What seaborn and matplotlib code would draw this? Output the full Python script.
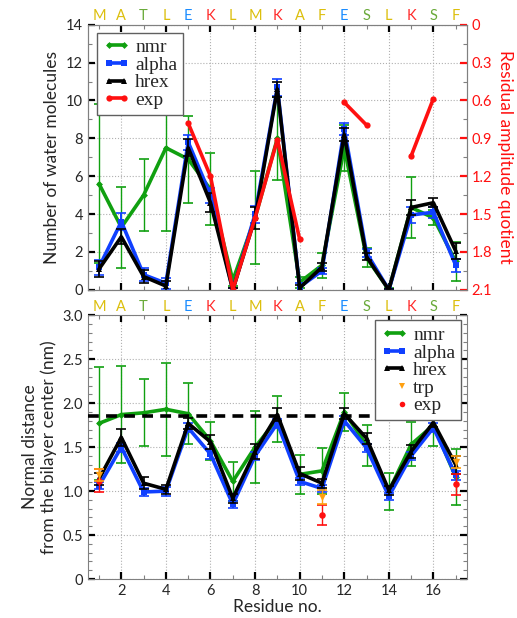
import numpy as np
import pandas as pd
import matplotlib
matplotlib.use('Agg')
import matplotlib.pyplot as plt
from matplotlib.ticker import MultipleLocator, FuncFormatter
from matplotlib.lines import Line2D
import seaborn as sns

# ---- data ----
residues = np.arange(1, 18)
sequence = list('MATLEKLMKAFESLKSF')
aa_colors = {'M': '#dcbf0c', 'A': '#dcbf0c', 'L': '#dcbf0c', 'F': '#dcbf0c',
             'T': '#6aaa3a', 'S': '#6aaa3a', 'E': '#1a8cff', 'K': '#ff2a2a'}

# top panel: number of water molecules
water_nmr = [5.6, 3.3, 5.0, 7.5, 6.9, 5.3, 0.5, 3.8, 8.0, 0.4, 1.3, 7.5, 1.7, 0.0, 4.35, 3.8, 1.5]
water_nmr_err = [4.2, 2.15, 1.9, 4.4, 2.3, 1.9, 0.3, 2.45, 2.2, 0.3, 0.65, 1.2, 0.5, 0.1, 1.6, 0.4, 1.05]
water_alpha = [1.2, 3.6, 0.8, 0.35, 7.8, 5.0, 0.0, 4.0, 10.7, 0.15, 1.0, 8.5, 1.95, 0.0, 3.95, 4.1, 1.3]
water_alpha_err = [0.4, 0.45, 0.35, 0.3, 0.4, 0.4, 0.1, 0.45, 0.45, 0.2, 0.15, 0.3, 0.2, 0.05, 0.4, 0.3, 0.35]
water_hrex = [1.1, 2.8, 0.7, 0.2, 7.5, 4.6, 0.0, 3.8, 10.6, 0.1, 1.2, 8.2, 1.75, 0.0, 4.35, 4.6, 2.05]
water_hrex_err = [0.4, 0.4, 0.35, 0.25, 0.45, 0.5, 0.1, 0.6, 0.4, 0.15, 0.2, 0.35, 0.2, 0.05, 0.4, 0.25, 0.4]
quotient_exp = [np.nan, np.nan, np.nan, np.nan, 0.78, 1.2, 2.1, 1.53, 0.91, 1.70,
                np.nan, 0.615, 0.795, np.nan, 1.04, 0.585, np.nan]

# bottom panel: normal distance from bilayer center (nm)
dist_nmr = [1.77, 1.87, 1.89, 1.93, 1.88, 1.57, 1.11, 1.50, 1.82, 1.19, 1.23, 1.90, 1.52, 1.00, 1.53, 1.75, 1.16]
dist_nmr_err = [0.64, 0.55, 0.38, 0.53, 0.35, 0.22, 0.22, 0.41, 0.26, 0.22, 0.26, 0.22, 0.23, 0.21, 0.25, 0.24, 0.32]
dist_alpha = [1.06, 1.50, 0.99, 1.00, 1.72, 1.42, 0.85, 1.40, 1.77, 1.11, 1.03, 1.80, 1.49, 0.94, 1.40, 1.72, 1.18]
dist_alpha_err = [0.04, 0.05, 0.05, 0.05, 0.05, 0.05, 0.04, 0.05, 0.05, 0.04, 0.04, 0.05, 0.04, 0.04, 0.05, 0.05, 0.05]
dist_hrex = [1.14, 1.61, 1.09, 1.02, 1.77, 1.56, 0.92, 1.45, 1.87, 1.20, 1.09, 1.88, 1.60, 1.01, 1.45, 1.78, 1.30]
dist_hrex_err = [0.07, 0.1, 0.07, 0.05, 0.06, 0.08, 0.05, 0.09, 0.07, 0.07, 0.05, 0.06, 0.06, 0.05, 0.07, 0.05, 0.1]
trp_res = [1, 11, 17]
trp_dist = [1.18, 0.93, 1.33]
trp_err = [0.07, 0.08, 0.07]
exp_res = [1, 11, 17]
exp_dist = [1.12, 0.73, 1.08]
exp_err = [0.13, 0.11, 0.12]
center_ref = 1.85

C_NMR, C_ALPHA, C_HREX, C_EXP, C_TRP = '#10a010', '#1040ff', 'black', '#ff1010', '#ffa010'

sns.set_style('ticks')
plt.rcParams['font.family'] = ['Lato', 'DejaVu Sans']
plt.rcParams['axes.edgecolor'] = '#808080'

fig = plt.figure(figsize=(5.17, 6.18), dpi=100)
ax1 = fig.add_axes([0.170, 0.531, 0.733, 0.429])
ax2 = fig.add_axes([0.170, 0.063, 0.733, 0.427])


def draw_series(ax, y, err, color, marker, ms, lw=2.6, elw=1.0, z=2):
    ax.errorbar(residues, y, yerr=err, fmt='none', ecolor=color, elinewidth=elw,
                capsize=3.5, capthick=1.2, zorder=z)
    sns.lineplot(x=residues, y=y, ax=ax, color=color, lw=lw, marker=marker,
                 markersize=ms, markeredgewidth=0, sort=False, zorder=z + 0.5)


def style_axis(ax, right=True):
    ax.set_xlim(0.5, 17.5)
    ax.xaxis.set_major_locator(MultipleLocator(2))
    ax.xaxis.set_minor_locator(MultipleLocator(1))
    ax.tick_params(which='major', direction='in', length=5, width=1.6, color='black',
                   top=True, right=right, labelsize=10.5)
    ax.tick_params(which='minor', direction='in', length=3, width=0.8, color='#808080',
                   top=True, right=right)
    ax.grid(True, which='major', ls=':', color='#b0b0b0', lw=0.8)
    for i, aa in enumerate(sequence):
        ax.annotate(aa, (residues[i], 1.0), xycoords=ax.get_xaxis_transform(),
                    xytext=(0, 1), textcoords='offset points', ha='center', va='bottom',
                    color=aa_colors[aa], fontsize=10.5)
    for sp in ax.spines.values():
        sp.set_color('#808080')


# ---- top panel ----
draw_series(ax1, water_nmr, water_nmr_err, C_NMR, 'D', 3.5, elw=1.0, z=2)
draw_series(ax1, water_alpha, water_alpha_err, C_ALPHA, 's', 4.5, elw=1.4, z=3)
draw_series(ax1, water_hrex, water_hrex_err, C_HREX, '^', 4.5, elw=1.2, z=4)
ax1.set_ylim(0, 14)
ax1.yaxis.set_major_locator(MultipleLocator(2))
ax1.yaxis.set_minor_locator(MultipleLocator(1))
style_axis(ax1, right=False)
ax1.tick_params(labelbottom=False)
ax1.set_xlabel('')
ax1.set_ylabel('Number of water molecules', fontsize=12.5)

ax1r = ax1.twinx()
exp_df = pd.DataFrame({'residue': residues, 'quotient': quotient_exp})
exp_df['seg'] = exp_df['quotient'].isna().cumsum()
exp_df = exp_df.dropna()
sns.lineplot(data=exp_df, x='residue', y='quotient', units='seg', estimator=None,
             ax=ax1r, color=C_EXP, lw=2.6, marker='o', markersize=4.5,
             markeredgewidth=0, sort=False)
ax1r.set_ylim(2.1, 0)
ax1r.set_xlim(0.5, 17.5)
ax1r.yaxis.set_major_locator(MultipleLocator(0.3))
ax1r.yaxis.set_minor_locator(MultipleLocator(0.15))
ax1r.yaxis.set_major_formatter(FuncFormatter(lambda v, p: '0' if abs(v) < 1e-9 else f'{v:.1f}'))
ax1r.tick_params(which='major', direction='in', length=5, width=1.6, color=C_EXP,
                 labelcolor=C_EXP, labelsize=10.5)
ax1r.tick_params(which='minor', direction='in', length=3, width=0.8, color='#808080')
ax1r.set_ylabel('Residual amplitude quotient', color=C_EXP, fontsize=12.5,
                rotation=270, labelpad=15)
ax1r.set_xlabel('')
for sp in ax1r.spines.values():
    sp.set_color('#808080')

leg_font = {'family': 'Liberation Serif', 'size': 14}
leg_kw = dict(prop=leg_font, numpoints=2, handlelength=1.35, handletextpad=0.3,
              labelspacing=0.0, borderpad=0.3, borderaxespad=0, fancybox=False,
              framealpha=1, edgecolor='#606060')
top_handles = [
    Line2D([], [], color=C_NMR, lw=2.6, marker='D', ms=3.5, mew=0),
    Line2D([], [], color=C_ALPHA, lw=2.6, marker='s', ms=4.5, mew=0),
    Line2D([], [], color=C_HREX, lw=2.6, marker='^', ms=4.5, mew=0),
    Line2D([], [], color=C_EXP, lw=2.6, marker='o', ms=4.5, mew=0),
]
leg1 = ax1r.legend(top_handles, ['nmr', 'alpha', 'hrex', 'exp'], loc='upper left',
                   bbox_to_anchor=(0.025, 0.97), **leg_kw)
leg1.get_frame().set_linewidth(1.0)

# ---- bottom panel ----
draw_series(ax2, dist_nmr, dist_nmr_err, C_NMR, 'D', 3.5, elw=1.0, z=2)
draw_series(ax2, dist_alpha, dist_alpha_err, C_ALPHA, 's', 4.5, elw=1.4, z=3)
draw_series(ax2, dist_hrex, dist_hrex_err, C_HREX, '^', 4.5, elw=1.2, z=4)
ax2.axhline(center_ref, color='black', lw=2.6, ls=(0, (3, 2)), zorder=5)
ax2.errorbar(exp_res, exp_dist, yerr=exp_err, fmt='none', ecolor=C_EXP,
             elinewidth=1.0, capsize=3.5, capthick=1.2, zorder=6)
sns.scatterplot(x=exp_res, y=exp_dist, ax=ax2, color=C_EXP, marker='o', s=22,
                linewidth=0, zorder=6.5)
ax2.errorbar(trp_res, trp_dist, yerr=trp_err, fmt='none', ecolor=C_TRP,
             elinewidth=1.0, capsize=3.5, capthick=1.2, zorder=7)
sns.scatterplot(x=trp_res, y=trp_dist, ax=ax2, color=C_TRP, marker='v', s=28,
                linewidth=0, zorder=7.5)
ax2.set_ylim(0, 3.0)
ax2.yaxis.set_major_locator(MultipleLocator(0.5))
ax2.yaxis.set_minor_locator(MultipleLocator(0.1))
ax2.yaxis.set_major_formatter(FuncFormatter(lambda v, p: '0' if abs(v) < 1e-9 else f'{v:.1f}'))
style_axis(ax2, right=True)
ax2.set_xlabel('Residue no.', fontsize=12.5, labelpad=1)
ax2.set_ylabel('Normal distance\nfrom the bilayer center (nm)', fontsize=12.5)

bot_handles = [
    Line2D([], [], color=C_NMR, lw=2.6, marker='D', ms=3.5, mew=0),
    Line2D([], [], color=C_ALPHA, lw=2.6, marker='s', ms=4.5, mew=0),
    Line2D([], [], color=C_HREX, lw=2.6, marker='^', ms=4.5, mew=0),
    Line2D([], [], color=C_TRP, lw=0, marker='v', ms=4.5, mew=0),
    Line2D([], [], color=C_EXP, lw=0, marker='o', ms=4.0, mew=0),
]
leg2 = ax2.legend(bot_handles, ['nmr', 'alpha', 'hrex', 'trp', 'exp'], loc='upper right',
                  bbox_to_anchor=(0.985, 0.98), **leg_kw)
leg2.get_frame().set_linewidth(1.0)
leg2.set_zorder(10)
# single marker for trp/exp entries
for h in leg2.legend_handles[3:]:
    h.set_markevery([1])

fig.savefig('out.png', dpi=100)
